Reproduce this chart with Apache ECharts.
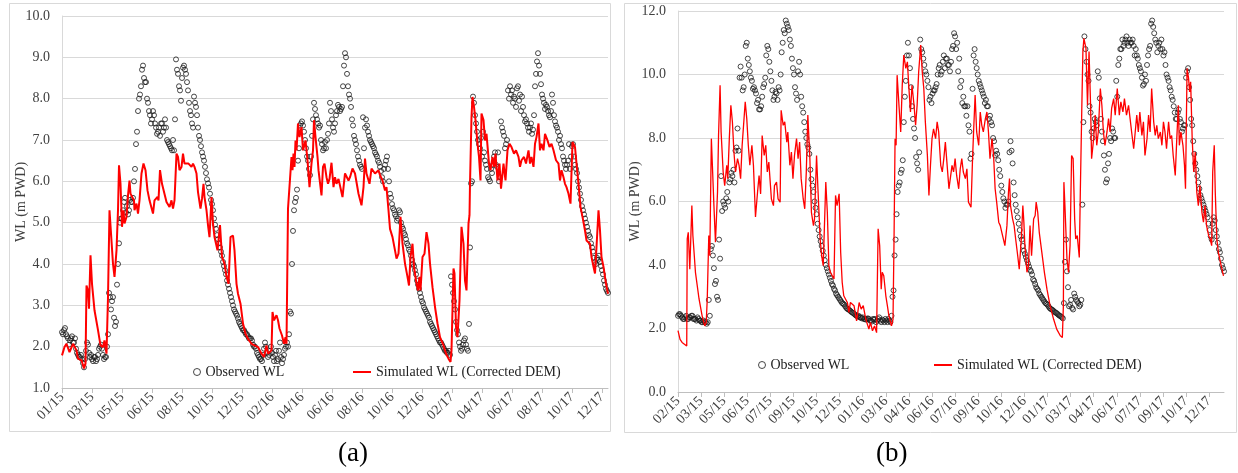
<!DOCTYPE html>
<html>
<head>
<meta charset="utf-8">
<script src="https://cdn.jsdelivr.net/npm/echarts@6/dist/echarts.min.js"></script>
<style>
  html, body { margin: 0; padding: 0; background: #fff; }
  #chart { width: 1238px; height: 473px; }
</style>
</head>
<body>
<div id="chart"></div>
<script>
// tick labels (a): every 60 days from 01/2015; (b): every 45 days from 02/2015
const tickLabelsA = ['01/15','03/15','05/15','06/15','08/15','10/15','12/15','02/16','04/16','06/16',
  '08/16','10/16','12/16','02/17','04/17','06/17','08/17','10/17','12/17'];
const tickLabelsB = ['02/15','03/15','05/15','06/15','07/15','09/15','10/15','12/15','01/16','03/16',
  '04/16','06/16','07/16','09/16','10/16','12/16','01/17','03/17','04/17','06/17','07/17','09/17','10/17','12/17'];

// observed WL (a), read every 4 days from day 0
const obsA = [
  2.35, 2.4, 2.3, 2.2, 2.15, 2.25, 2.1, 1.95, 1.8, 1.75, 1.7, 1.5, 1.9, 2.05, 1.75,
  1.7, 1.75, 1.65, 1.8, 2.0, 1.95, 1.7, 1.75, 2.3, 3.2, 3.1, 2.7, 2.6, 4.0, 5.0,
  5.1, 5.5, 5.25, 5.2, 5.55, 5.5, 6.0, 6.9, 7.7, 8.1, 8.7, 8.5, 8.4, 7.9, 7.6,
  7.5, 7.6, 7.3, 7.2, 7.1, 7.4, 7.3, 7.3, 6.95, 6.85, 6.75, 6.75, 8.95, 8.6, 8.2,
  8.5, 8.8, 8.6, 8.2, 7.7, 7.4, 8.05, 7.8, 7.3, 7.0, 6.7, 6.5, 6.2, 5.95, 5.7,
  5.45, 5.1, 4.85, 4.6, 4.4, 4.2, 3.95, 3.75, 3.5, 3.3, 3.1, 2.9, 2.8, 2.68, 2.55,
  2.45, 2.4, 2.3, 2.25, 2.2, 2.15, 2.0, 1.95, 1.8, 1.7, 1.65, 1.95, 2.0, 1.75, 1.9,
  1.85, 1.65, 1.9, 1.7, 2.1, 1.6, 1.8, 2.0, 2.0, 2.85, 4.0, 5.3, 5.6, 6.5, 7.35,
  7.45, 7.2, 6.8, 6.5, 6.15, 7.1, 7.9, 7.6, 7.4, 7.35, 6.9, 6.8, 6.8, 7.15, 7.9,
  7.5, 7.2, 7.6, 7.85, 7.7, 7.8, 8.8, 9.0, 8.3, 8.0, 7.5, 7.1, 6.9, 6.6, 6.4,
  6.3, 6.8, 7.5, 7.2, 7.0, 6.9, 6.8, 6.65, 6.5, 6.35, 6.1, 6.3, 6.5, 6.3, 5.7,
  5.45, 5.3, 5.15, 5.1, 5.25, 4.9, 4.75, 4.6, 4.45, 4.3, 4.1, 3.95, 3.75, 3.5, 3.3,
  3.1, 2.95, 2.85, 2.75, 2.6, 2.5, 2.4, 2.3, 2.2, 2.1, 2.05, 1.95, 1.9, 1.85, 1.8,
  3.5, 3.1, 2.6, 2.3, 2.0, 1.95, 2.15, 2.05, 1.9, 4.4, 6.0, 7.9, 7.4, 7.0, 6.8,
  6.6, 6.7, 6.4, 6.1, 6.0, 6.2, 6.6, 6.4, 6.7, 6.1, 7.3, 7.1, 6.9, 8.2, 8.3,
  8.2, 8.05, 7.8, 8.3, 8.1, 8.05, 7.6, 7.5, 7.3, 7.3, 7.15, 7.6, 8.6, 9.1, 8.6,
  8.1, 7.9, 7.85, 7.7, 7.55, 8.1, 7.6, 7.35, 7.2, 7.1, 6.8, 6.5, 6.3, 6.5, 6.3,
  6.85, 6.6, 6.3, 6.0, 5.7, 5.4, 5.2, 5.0, 4.8, 4.65, 4.4, 4.15, 4.0, 4.1, 4.05,
  3.85, 3.6, 3.4, 3.3
];
// observed WL (a), read every 4 days from day 2
const obsA2 = [
  2.3, 2.45, 2.25, 2.05, 2.2, 2.1, 2.2, 1.85, 1.75, 1.8, 1.6, 1.7, 2.1, 1.85, 1.8,
  1.65, 1.75, 1.7, 1.95, 2.05, 1.8, 1.75, 2.0, 3.3, 2.9, 3.2, 2.5, 3.5, 4.5, 5.1,
  5.3, 5.6, 5.4, 5.3, 5.5, 5.6, 6.3, 7.2, 8.0, 8.3, 8.8, 8.4, 8.0, 7.7, 7.4,
  7.7, 7.4, 7.15, 7.3, 7.4, 7.2, 7.5, 7.0, 6.9, 6.8, 7.0, 7.5, 8.7, 8.3, 7.95,
  8.75, 8.7, 8.4, 7.9, 7.6, 7.3, 7.9, 7.6, 7.1, 6.85, 6.6, 6.35, 6.05, 5.85, 5.55,
  5.3, 4.95, 4.7, 4.5, 4.3, 4.05, 3.85, 3.6, 3.4, 3.2, 3.0, 2.85, 2.75, 2.6, 2.5,
  2.4, 2.35, 2.3, 2.2, 2.2, 2.05, 2.0, 1.85, 1.75, 1.7, 1.8, 2.1, 1.85, 1.8, 2.0,
  1.75, 1.8, 1.65, 1.9, 1.75, 1.7, 1.95, 2.1, 2.3, 2.8, 4.8, 5.5, 5.8, 6.8, 7.4,
  7.35, 7.0, 6.6, 6.3, 6.6, 7.5, 7.75, 7.5, 7.3, 7.0, 6.75, 6.95, 7.0, 7.4, 7.7,
  7.3, 7.4, 7.7, 7.8, 7.75, 8.3, 9.1, 8.6, 8.1, 7.8, 7.35, 7.0, 6.75, 6.5, 6.35,
  7.55, 7.3, 7.35, 7.1, 6.95, 6.85, 6.7, 6.6, 6.45, 6.25, 6.0, 6.4, 6.6, 6.0, 5.6,
  5.35, 5.2, 5.05, 5.3, 5.0, 4.85, 4.7, 4.5, 4.35, 4.2, 4.0, 3.85, 3.6, 3.4, 3.2,
  3.05, 2.9, 2.8, 2.7, 2.55, 2.45, 2.35, 2.25, 2.15, 2.1, 2.0, 1.9, 1.85, 1.9, 3.7,
  3.3, 2.9, 2.4, 2.1, 1.9, 2.05, 2.2, 1.95, 2.55, 5.95, 8.05, 7.6, 7.2, 6.9, 7.05,
  7.2, 6.5, 6.3, 6.05, 6.3, 6.4, 6.7, 6.35, 6.0, 7.45, 7.2, 6.8, 7.0, 8.0, 8.1,
  7.9, 8.0, 8.25, 7.95, 7.7, 7.8, 7.45, 7.4, 7.2, 7.4, 7.25, 8.3, 8.9, 8.8, 8.35,
  8.0, 7.75, 7.8, 7.6, 7.7, 7.9, 7.45, 7.3, 7.0, 6.9, 6.6, 6.4, 6.4, 6.9, 6.6,
  6.9, 6.4, 6.2, 5.85, 5.55, 5.3, 5.1, 4.9, 4.7, 4.5, 4.3, 4.05, 4.15, 4.2, 3.95,
  3.75, 3.5, 3.35
];

// simulated WL (a): [day, value]
const simA = [
  [0,1.79],[5,1.99],[9,2.07],[15,1.87],[22,2.07],[29,1.91],[32,1.71],[39,1.67],[44,1.47],[47,1.59],
  [49,3.48],[52,3.36],[54,2.92],[57,4.21],[60,3.52],[65,2.88],[72,2.4],[77,2.03],[82,1.99],[85,2.15],
  [89,1.83],[92,3.2],[95,5.3],[97,5.34],[102,4.0],[105,3.69],[109,4.33],[112,5.3],[114,6.39],[117,5.94],
  [120,4.9],[123,5.3],[125,4.98],[129,5.14],[132,5.66],[135,6.02],[137,5.7],[140,5.74],[144,5.54],[145,5.3],
  [149,5.46],[152,5.22],[155,5.54],[159,6.19],[163,6.43],[167,6.27],[171,5.78],[175,5.54],[182,5.22],[185,5.54],
  [191,5.62],[193,5.54],[196,6.27],[200,5.94],[204,5.94],[209,5.5],[212,5.46],[215,5.38],[219,5.54],[222,5.34],
  [225,5.54],[229,6.67],[232,6.59],[235,6.27],[239,6.35],[242,6.67],[245,6.43],[249,6.39],[253,6.43],[259,6.35],
  [262,6.43],[265,6.35],[269,6.19],[272,5.74],[277,5.34],[280,5.58],[283,5.94],[285,5.62],[289,5.3],[292,4.94],
  [295,4.65],[299,5.62],[302,4.98],[305,4.65],[311,4.33],[316,4.94],[320,4.17],[325,4.01],[329,3.69],[333,3.52],
  [337,4.65],[342,4.69],[345,4.33],[349,3.52],[352,3.28],[357,3.04],[362,2.56],[367,2.31],[372,2.19],[379,2.07],
  [385,2.03],[392,1.99],[399,1.83],[404,1.75],[409,2.03],[412,1.83],[419,1.91],[421,2.84],[424,2.64],[429,2.76],
  [432,2.64],[435,2.44],[440,2.27],[444,2.07],[447,2.23],[449,2.07],[452,5.34],[455,5.38],[459,6.59],[461,6.27],
  [463,6.67],[465,6.35],[467,6.99],[469,6.75],[472,7.4],[475,7.07],[479,7.31],[482,6.75],[487,6.99],[491,6.51],
  [495,5.86],[499,6.43],[502,6.75],[504,7.48],[507,7.07],[511,6.59],[513,6.27],[519,5.66],[522,6.35],[525,6.43],
  [529,6.1],[532,5.94],[535,6.06],[539,6.45],[543,5.86],[546,6.1],[549,5.94],[553,6.06],[556,6.02],[561,5.62],
  [566,6.19],[573,6.02],[576,6.1],[581,6.31],[586,6.19],[593,5.7],[599,5.42],[603,5.86],[606,6.55],[609,6.19],
  [615,5.94],[619,6.31],[626,6.19],[633,6.27],[636,6.15],[641,6.02],[646,5.78],[649,5.86],[653,5.3],[656,4.85],
  [661,4.65],[666,4.33],[669,4.13],[673,4.25],[677,5.14],[681,4.49],[686,4.01],[691,3.69],[694,3.48],[697,4.17],
  [701,4.49],[704,3.93],[708,3.6],[712,3.36],[715,3.69],[717,3.36],[721,4.17],[725,4.25],[729,4.77],[733,4.49],
  [736,4.01],[741,3.44],[746,2.96],[751,2.56],[756,2.23],[763,2.03],[768,1.83],[773,1.71],[777,1.63],[779,1.91],
  [783,3.89],[785,3.77],[788,2.48],[791,2.23],[795,3.12],[799,4.9],[803,4.49],[806,3.6],[809,3.36],[813,4.98],
  [815,5.18],[816,5.94],[819,7.56],[821,8.04],[824,7.8],[827,7.48],[831,6.91],[834,6.59],[837,6.02],[839,7.64],
  [843,7.48],[846,6.99],[849,7.15],[854,6.43],[857,6.27],[861,6.59],[864,6.35],[867,6.67],[871,6.02],[875,6.43],
  [878,5.82],[883,6.43],[887,6.02],[891,6.75],[895,6.91],[899,6.83],[904,6.67],[908,6.75],[913,6.59],[916,6.35],
  [919,6.51],[924,6.59],[928,6.43],[933,6.75],[936,6.43],[939,6.59],[943,6.35],[946,6.91],[949,7.07],[953,7.4],
  [956,6.75],[959,6.91],[963,6.75],[966,7.15],[971,6.99],[975,6.83],[979,6.91],[983,6.75],[988,6.51],[993,6.43],
  [996,6.02],[999,6.27],[1003,6.1],[1006,5.94],[1009,5.86],[1013,5.7],[1017,5.46],[1021,6.95],[1026,6.83],[1029,6.43],
  [1033,5.94],[1037,5.38],[1041,5.14],[1046,4.81],[1049,4.57],[1053,4.57],[1056,4.49],[1059,4.17],[1063,3.93],[1066,3.77],
  [1069,4.41],[1073,5.3],[1076,4.81],[1079,4.17],[1083,3.93],[1088,3.52],[1092,3.28]
];

// observed WL (b), read every 4 days from day 0
const obsB = [
  2.4, 2.45, 2.35, 2.3, 2.4, 2.3, 2.35, 2.4, 2.3, 2.25, 2.3, 2.25,
  2.2, 2.2, 2.15, 2.9, 4.5, 4.3, 3.4, 3.0, 4.8, 6.8, 6.0, 5.8,
  6.3, 6.6, 6.9, 7.0, 7.6, 8.3, 9.9, 9.9, 9.6, 10.9, 10.5, 10.1,
  9.8, 9.6, 9.4, 9.2, 8.9, 9.3, 9.7, 10.6, 10.8, 10.1, 9.5, 9.3,
  9.4, 9.6, 10.0, 11.0, 11.3, 11.6, 11.4, 10.9, 10.2, 9.6, 9.2, 10.4,
  9.3, 8.8, 8.2, 7.8, 7.5, 6.7, 6.3, 5.8, 5.3, 4.9, 4.6, 4.3,
  4.0, 3.8, 3.6, 3.4, 3.25, 3.1, 3.0, 2.9, 2.8, 2.75, 2.65, 2.6,
  2.55, 2.5, 2.45, 2.4, 2.4, 2.35, 2.35, 2.3, 2.3, 2.3, 2.25, 2.3,
  2.3, 2.25, 2.35, 2.2, 2.25, 2.3, 2.2, 2.25, 2.4, 3.2, 4.8, 6.3,
  6.6, 7.0, 8.5, 9.8, 11.0, 10.2, 9.0, 8.3, 7.4, 7.0, 11.1, 10.7,
  10.3, 10.0, 9.6, 9.3, 9.4, 9.5, 9.7, 10.2, 10.0, 10.4, 10.2, 10.5,
  10.3, 10.4, 10.9, 11.2, 11.0, 10.5, 9.8, 9.3, 9.0, 9.0, 8.2, 7.5,
  10.6, 10.4, 10.0, 9.7, 9.5, 9.3, 9.2, 9.0, 8.7, 8.4, 7.9, 7.6,
  7.3, 6.8, 6.3, 6.0, 5.9, 6.0, 7.9, 7.2, 6.2, 5.7, 5.3, 4.9,
  4.6, 4.35, 4.15, 3.95, 3.8, 3.55, 3.4, 3.25, 3.1, 3.0, 2.9, 2.8,
  2.75, 2.65, 2.6, 2.55, 2.5, 2.45, 2.4, 2.35, 2.8, 4.8, 3.3, 2.75,
  2.65, 3.1, 2.9, 2.8, 2.75, 5.9, 11.2, 10.4, 9.8, 8.8, 8.0, 8.6,
  8.4, 9.9, 8.6, 7.9, 7.0, 6.7, 7.5, 7.9, 8.2, 8.0, 9.3, 10.5,
  10.8, 10.9, 11.1, 11.0, 11.1, 11.0, 10.9, 10.8, 10.5, 10.2, 9.9, 9.7,
  9.8, 10.6, 10.9, 11.7, 11.3, 11.0, 10.9, 10.8, 10.8, 10.7, 10.0, 9.8,
  9.5, 9.2, 8.8, 8.6, 8.9, 8.5, 8.3, 8.4, 10.1, 9.6, 8.6, 7.9,
  7.2, 6.8, 6.4, 6.1, 5.9, 5.7, 5.5, 5.1, 4.8, 5.5, 5.1, 4.7,
  4.4, 4.0, 3.8
];
// observed WL (b), read every 4 days from day 2
const obsB2 = [
  2.45, 2.4, 2.3, 2.35, 2.3, 2.35, 2.4, 2.3, 2.3, 2.35, 2.25, 2.2,
  2.25, 2.2, 2.2, 2.4, 4.6, 3.9, 3.5, 2.9, 4.2, 5.7, 5.9, 6.1,
  6.0, 6.7, 6.8, 6.6, 7.7, 7.6, 10.25, 9.5, 10.0, 11.0, 10.3, 9.9,
  9.55, 9.5, 9.1, 8.9, 9.0, 9.6, 9.9, 10.9, 10.4, 9.8, 9.2, 9.45,
  9.2, 9.5, 10.7, 11.4, 11.7, 11.5, 11.1, 10.5, 10.0, 9.4, 10.1, 10.0,
  9.0, 8.5, 8.0, 7.7, 7.0, 6.5, 6.0, 5.6, 5.1, 4.75, 4.45, 4.15,
  3.9, 3.7, 3.5, 3.35, 3.2, 3.05, 2.95, 2.85, 2.78, 2.7, 2.62, 2.58,
  2.52, 2.48, 2.42, 2.38, 2.35, 2.32, 2.3, 2.28, 2.32, 2.25, 2.22, 2.28,
  2.2, 2.3, 2.25, 2.28, 2.2, 2.25, 2.3, 2.2, 3.0, 4.3, 5.6, 6.5,
  6.9, 7.3, 9.3, 10.6, 10.6, 9.6, 8.6, 8.0, 7.2, 7.55, 10.8, 10.5,
  10.1, 9.8, 9.2, 9.1, 9.5, 9.6, 10.0, 10.3, 10.1, 10.6, 10.5, 10.3,
  10.1, 10.8, 11.3, 10.8, 10.1, 9.6, 9.1, 9.0, 8.7, 8.4, 7.35, 9.55,
  10.8, 10.2, 9.8, 9.6, 9.4, 9.1, 9.0, 8.6, 8.5, 8.0, 7.45, 7.5,
  7.0, 6.5, 6.1, 5.8, 5.9, 7.55, 7.6, 6.6, 5.9, 5.5, 5.1, 4.8,
  4.45, 4.25, 4.05, 3.85, 3.7, 3.5, 3.3, 3.2, 3.05, 2.95, 2.85, 2.78,
  2.7, 2.62, 2.58, 2.52, 2.48, 2.42, 2.38, 2.32, 4.1, 3.8, 2.7, 2.9,
  2.6, 3.0, 2.85, 2.7, 2.9, 8.5, 10.8, 10.0, 9.0, 8.2, 8.3, 8.5,
  10.1, 9.25, 8.2, 7.45, 6.6, 7.2, 8.0, 8.3, 8.0, 9.8, 10.3, 10.8,
  11.1, 11.0, 11.2, 10.9, 11.0, 11.1, 10.6, 10.6, 10.3, 10.1, 9.65, 10.0,
  10.3, 10.8, 11.6, 11.5, 11.1, 10.7, 11.0, 11.1, 10.6, 10.3, 9.9, 9.6,
  9.3, 9.0, 8.6, 8.8, 8.6, 8.2, 8.4, 9.9, 10.2, 9.2, 8.4, 7.5,
  7.0, 6.6, 6.2, 6.0, 5.8, 5.6, 5.3, 4.9, 5.3, 5.4, 4.9, 4.5,
  4.2, 3.9
];

// simulated WL (b): [day, value]
const simB = [
  [0,1.93],[4,1.66],[8,1.56],[17,1.45],[18,4.82],[20,5.03],[23,3.87],[27,5.87],[29,4.93],[34,3.77],
  [41,2.93],[47,2.4],[52,2.08],[55,2.19],[57,2.93],[60,4.93],[62,4.29],[65,7.98],[67,7.14],[70,5.87],
  [73,4.72],[77,6.29],[79,8.08],[82,9.66],[84,8.19],[88,6.93],[91,6.5],[95,7.14],[97,6.72],[100,7.98],
  [103,9.03],[106,8.51],[109,7.56],[112,6.93],[116,7.35],[119,7.14],[122,6.72],[125,7.77],[131,9.14],[134,8.61],
  [137,7.77],[140,7.14],[144,7.77],[147,7.14],[151,5.51],[155,6.29],[158,6.82],[161,6.24],[164,8.08],[168,7.45],
  [171,7.77],[174,6.93],[177,7.24],[182,6.08],[186,5.87],[188,6.5],[192,6.61],[195,6.08],[199,5.98],[201,8.87],
  [205,8.4],[208,8.51],[212,7.87],[214,8.19],[218,7.14],[221,7.56],[224,6.72],[227,7.45],[231,7.98],[234,7.35],
  [237,7.87],[240,6.72],[244,6.08],[247,5.77],[250,6.93],[253,8.72],[257,7.35],[260,5.66],[264,5.24],[266,5.45],
  [270,7.45],[273,6.29],[277,4.82],[280,4.29],[283,3.98],[288,6.61],[291,5.66],[294,3.98],[297,3.77],[304,3.56],
  [307,6.19],[310,5.87],[314,6.24],[317,4.4],[320,3.45],[323,3.03],[330,2.82],[333,2.51],[336,2.82],[343,2.72],
  [348,2.24],[353,2.82],[357,2.61],[361,2.72],[366,2.29],[372,1.98],[375,2.19],[379,1.93],[383,2.08],[387,1.87],
  [390,5.14],[393,4.61],[396,3.24],[398,3.77],[401,3.66],[405,3.03],[408,2.72],[411,2.4],[416,2.08],[419,2.29],
  [421,4.82],[423,7.98],[425,7.77],[427,9.98],[431,8.93],[434,8.19],[437,9.66],[440,10.61],[444,10.19],[447,10.4],
  [450,9.56],[453,8.82],[456,9.66],[460,9.03],[463,8.4],[466,9.03],[469,10.08],[473,10.93],[476,10.08],[479,9.56],
  [482,8.51],[486,7.45],[489,6.19],[492,7.14],[495,7.98],[498,8.29],[502,7.98],[505,8.51],[508,8.19],[512,7.14],
  [515,6.93],[518,7.35],[521,7.87],[524,7.24],[528,6.4],[534,7.14],[537,6.93],[540,7.35],[543,6.82],[547,6.4],
  [550,7.03],[553,7.35],[556,6.93],[560,6.72],[563,7.03],[566,5.98],[571,5.82],[574,7.35],[576,8.19],[579,9.35],
  [582,8.19],[586,7.77],[589,8.82],[592,8.4],[595,8.19],[599,8.61],[602,8.82],[605,8.19],[608,7.35],[612,7.98],
  [615,7.45],[618,6.4],[621,5.98],[625,5.35],[628,5.24],[631,5.03],[634,4.82],[637,4.61],[641,5.24],[644,6.29],
  [646,6.72],[648,5.87],[652,5.45],[655,5.24],[658,4.82],[662,4.29],[665,3.87],[669,4.82],[672,5.87],[674,5.35],
  [676,4.61],[680,3.77],[683,3.98],[686,5.24],[689,4.29],[693,5.45],[696,5.56],[698,5.98],[701,5.66],[704,5.03],
  [709,4.4],[714,3.77],[719,3.24],[725,2.72],[732,2.29],[738,1.98],[745,1.77],[749,1.72],[751,2.72],[752,6.61],
  [754,5.87],[758,4.19],[761,3.77],[764,4.61],[767,7.45],[770,7.35],[773,5.45],[775,4.82],[778,4.93],[782,4.24],
  [784,6.29],[787,9.03],[789,10.72],[791,11.14],[795,10.82],[798,9.03],[801,10.72],[804,9.03],[806,7.35],[810,7.98],
  [813,8.72],[816,7.77],[819,8.19],[823,9.56],[826,9.03],[829,8.19],[832,7.77],[836,8.19],[839,8.61],[842,8.19],
  [845,8.93],[849,9.24],[852,8.72],[856,9.56],[860,8.72],[863,9.14],[867,8.82],[870,9.24],[874,8.72],[878,9.03],
  [881,8.61],[884,8.19],[888,7.66],[891,8.19],[894,8.72],[897,8.19],[900,8.82],[904,8.08],[907,8.51],[910,7.45],
  [914,7.98],[917,8.72],[920,8.19],[923,9.56],[927,8.51],[930,8.08],[933,8.4],[936,7.98],[940,8.19],[943,7.77],
  [946,8.51],[949,8.19],[952,7.66],[956,8.51],[959,7.98],[962,8.08],[965,7.45],[969,6.82],[972,7.98],[975,9.03],
  [977,7.77],[980,8.19],[984,7.77],[987,7.14],[989,6.4],[992,10.19],[995,9.87],[997,9.45],[999,9.77],[1002,7.98],
  [1005,6.93],[1008,7.56],[1011,6.29],[1014,5.87],[1017,6.51],[1021,5.66],[1024,5.35],[1027,5.87],[1030,5.24],[1034,4.93],
  [1037,4.82],[1040,4.61],[1042,6.93],[1045,7.77],[1047,6.29],[1050,4.82],[1053,4.4],[1057,4.08],[1060,3.87],[1063,3.66]
];

const FONT = 'Liberation Serif';
const STEP_OBS = 4;
const toPairs = (arr, offset) => arr.map((v, i) => [offset + i * STEP_OBS, v]);

function xAxisFor(grid, labels, interval, max) {
  const ticks = labels.map((_, i) => i * interval);
  return {
    type: 'value', gridIndex: grid, min: 0, max: max, interval: interval,
    axisLine: { show: true, lineStyle: { color: '#bfbfbf' } },
    axisTick: { show: true, customValues: ticks, length: 5, lineStyle: { color: '#bfbfbf' } },
    axisLabel: {
      customValues: ticks, rotate: 45, margin: 7,
      fontFamily: FONT, fontSize: 14, color: '#404040',
      formatter: (v) => labels[Math.round(v / interval)] || ''
    },
    splitLine: { show: false }
  };
}

function yAxisFor(grid, min, max, interval, nameGap) {
  return {
    type: 'value', gridIndex: grid, min: min, max: max, interval: interval,
    name: 'WL (m PWD)', nameLocation: 'middle', nameRotate: 90, nameGap: nameGap,
    nameMoveOverlap: false,
    nameTextStyle: { fontFamily: FONT, fontSize: 14, color: '#404040' },
    axisLine: { show: true, lineStyle: { color: '#d9d9d9' } },
    axisTick: { show: false },
    axisLabel: { margin: 12, fontFamily: FONT, fontSize: 14, color: '#404040', formatter: (v) => v.toFixed(1) },
    splitLine: { lineStyle: { color: '#d9d9d9', width: 1 } }
  };
}

const obsStyle = { color: 'rgba(255,255,255,0)', borderColor: '#1a1a1a', borderWidth: 1 };
const legendText = { fontFamily: FONT, fontSize: 14, color: '#222' };

const chart = echarts.init(document.getElementById('chart'), null, { renderer: 'canvas' });
chart.setOption({
  backgroundColor: '#fff',
  animation: false,
  grid: [
    { left: 62, top: 16, width: 546, height: 372 },
    { left: 678, top: 11, width: 546, height: 381 }
  ],
  xAxis: [
    xAxisFor(0, tickLabelsA, 60, 1092),
    xAxisFor(1, tickLabelsB, 45, 1064)
  ],
  yAxis: [
    yAxisFor(0, 1, 10, 1, 34),
    yAxisFor(1, 0, 12, 2, 36)
  ],
  legend: [
    { left: 193, top: 365, padding: 0, selectedMode: false, itemWidth: 7, itemHeight: 7, textStyle: legendText,
      data: [{ name: 'Observed WL', icon: 'circle', itemStyle: obsStyle }] },
    { left: 353, top: 365, padding: 0, selectedMode: false, itemWidth: 18, itemHeight: 2, textStyle: legendText,
      data: [{ name: 'Simulated WL (Corrected DEM)', icon: 'rect', itemStyle: { color: '#ff0000' } }] },
    { left: 758, top: 358, padding: 0, selectedMode: false, itemWidth: 7, itemHeight: 7, textStyle: legendText,
      data: [{ name: 'Observed WL', icon: 'circle', itemStyle: obsStyle }] },
    { left: 934, top: 358, padding: 0, selectedMode: false, itemWidth: 18, itemHeight: 2, textStyle: legendText,
      data: [{ name: 'Simulated WL (Corrected DEM)', icon: 'rect', itemStyle: { color: '#ff0000' } }] }
  ],
  graphic: [
    { type: 'rect', shape: { x: 9.5, y: 3.5, width: 601, height: 428 }, style: { fill: null, stroke: '#d9d9d9', lineWidth: 1 }, silent: true },
    { type: 'rect', shape: { x: 624.5, y: 3.5, width: 612, height: 429 }, style: { fill: null, stroke: '#d9d9d9', lineWidth: 1 }, silent: true },
    { type: 'text', left: 338, top: 440, style: { text: '(a)', fontFamily: FONT, fontSize: 27, fill: '#000' } },
    { type: 'text', left: 876, top: 440, style: { text: '(b)', fontFamily: FONT, fontSize: 27, fill: '#000' } }
  ],
  series: [
    { name: 'Observed WL', type: 'scatter', xAxisIndex: 0, yAxisIndex: 0, symbol: 'circle', symbolSize: 5,
      itemStyle: obsStyle, data: toPairs(obsA, 0).concat(toPairs(obsA2, 2)), z: 2 },
    { name: 'Simulated WL (Corrected DEM)', type: 'line', xAxisIndex: 0, yAxisIndex: 0, showSymbol: false,
      lineStyle: { color: '#ff0000', width: 2 }, itemStyle: { color: '#ff0000' }, data: simA, z: 3 },
    { name: 'Observed WL', type: 'scatter', xAxisIndex: 1, yAxisIndex: 1, symbol: 'circle', symbolSize: 5,
      itemStyle: obsStyle, data: toPairs(obsB, 0).concat(toPairs(obsB2, 2)), z: 2 },
    { name: 'Simulated WL (Corrected DEM)', type: 'line', xAxisIndex: 1, yAxisIndex: 1, showSymbol: false,
      lineStyle: { color: '#ff0000', width: 1.3 }, itemStyle: { color: '#ff0000' }, data: simB, z: 3 }
  ]
});
</script>
</body>
</html>
